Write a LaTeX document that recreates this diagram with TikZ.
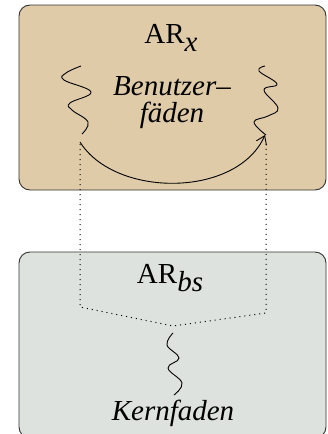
\documentclass[tikz,border=0pt]{standalone}
\usepackage{fontspec}
\setmainfont{Liberation Serif}
\usetikzlibrary{arrows.meta}
\definecolor{tanfill}{HTML}{DFCBA8}
\definecolor{greyfill}{HTML}{DEE2DE}
\definecolor{edge}{HTML}{333333}
\begin{document}
\begin{tikzpicture}[x=1pt,y=-1pt,
  boxstyle/.style={draw=edge,line width=0.9pt,rounded corners=11pt,inner sep=0pt},
  lbl/.style={inner sep=0pt,font=\fontsize{29}{27}\selectfont,align=center},
  squig/.style={line width=0.9pt},
  dotline/.style={line width=1pt,dash pattern=on 1pt off 4pt}]
\useasboundingbox (0,0) rectangle (327,434);
\node[boxstyle,fill=tanfill,minimum width=307pt,minimum height=185pt] (top) at (172.5,97.5) {};
\node[boxstyle,fill=greyfill,minimum width=307pt,minimum height=186pt] (bot) at (172.5,345) {};
% labels
\node[lbl,anchor=base] (arx) at (171,43) {AR\raisebox{-0.3em}{\itshape x}};
\node[lbl,anchor=base,font=\fontsize{29}{27}\selectfont\itshape] (ben) at (172,122) {Benutzer--\\fäden};
\node[lbl,anchor=base] (arbs) at (170,283) {AR\raisebox{-0.3em}{\itshape bs}};
\node[lbl,anchor=base] (kern) at (173,420) {\itshape Kernfaden};
% squiggles
\coordinate (lA) at (81,66);
\coordinate (lB) at (82,134);
\coordinate (rA) at (265,66);
\coordinate (rB) at (266,135);
\coordinate (bA) at (173,333);
\coordinate (bB) at (174,395);
\draw[squig] plot[smooth,tension=0.7] coordinates {(lA) (66,73) (64,80) (91,92) (70,103) (72,110) (88,122) (lB)};
\draw[squig] plot[smooth,tension=0.7] coordinates {(rA) (259,71) (277,84) (264,90) (278,108) (268,116) (254,122) (rB)};
\draw[squig] plot[smooth,tension=0.7] coordinates {(bA) (167,345) (179,358) (168,368) (182,383) (bB)};
% arc arrow
\coordinate (aS) at (80,142);
\coordinate (aE) at (265,135);
\draw[squig,-{Straight Barb[length=8pt,width=11pt]}] (aS) .. controls (115,198) and (237,198) .. (aE);
% dotted
\coordinate (dL1) at (80,144);
\coordinate (dL2) at (80,307);
\coordinate (dR1) at (266,144);
\coordinate (dR2) at (266,313);
\coordinate (dM) at (173,326);
\draw[dotline] (dL1) -- (dL2) -- (dM) -- (dR2) -- (dR1);
\end{tikzpicture}
\end{document}
